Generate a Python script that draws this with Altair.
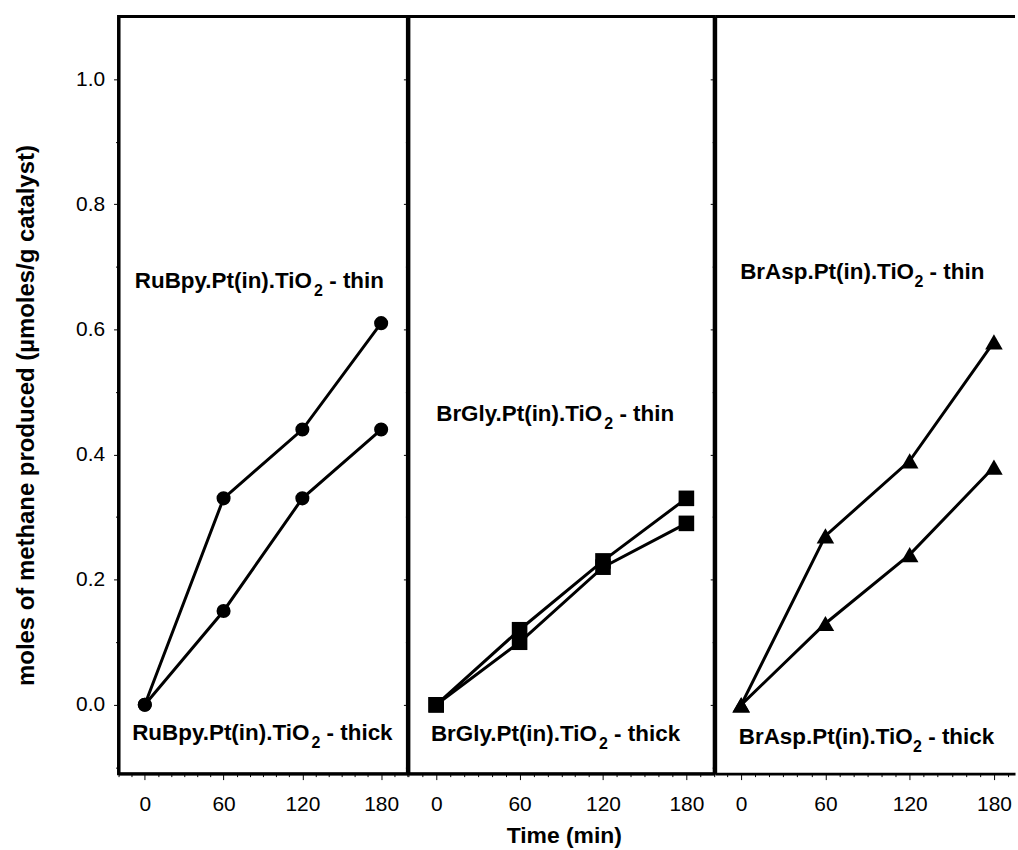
import altair as alt
import pandas as pd

# ---- measurements (µmol CH4 per g catalyst) ----
times = [0, 60, 120, 180]
rubpy_thin = [0.0, 0.33, 0.44, 0.61]
rubpy_thick = [0.0, 0.15, 0.33, 0.44]
brgly_thin = [0.0, 0.12, 0.23, 0.33]
brgly_thick = [0.0, 0.10, 0.22, 0.29]
brasp_thin = [0.0, 0.27, 0.39, 0.58]
brasp_thick = [0.0, 0.13, 0.24, 0.38]

catalysts = ["RuBpy", "BrGly", "BrAsp"]
marker_shapes = ["circle", "square", "triangle-up"]
marker_sizes = [200, 245, 310]

FONT = "Liberation Sans"
INK = "black"
LABEL_SIZE = 22.5
SUB_SIZE = 16
SUB_DROP = 8

Y_DOMAIN = [-0.11, 1.1]
PLOT_H = 760
y_ticks = [round(-0.1 + 0.05 * i, 2) for i in range(24)]
x_major = [0, 60, 120, 180]

# advance widths of Arial/Liberation Sans Bold, in em
ADV = {
    "R": .722, "u": .611, "B": .722, "p": .611, "y": .556, ".": .278, "P": .667,
    "t": .333, "(": .333, "i": .278, "n": .611, ")": .333, "T": .611, "O": .778,
    "2": .556, " ": .278, "-": .333, "h": .611, "c": .556, "k": .556, "r": .389,
    "G": .778, "l": .278, "A": .722, "s": .556,
}


def text_width(s, size):
    return sum(ADV[c] for c in s) * size


def formula_label(prefix, suffix, x, y):
    """Catalyst name with a subscripted 2 in TiO2, drawn as three text pieces."""
    pos = pd.DataFrame({"time": [x], "value": [y]})
    base = dict(font=FONT, fontWeight="bold", color=INK, align="left", baseline="alphabetic")
    w1 = text_width(prefix, LABEL_SIZE)
    w2 = text_width("2", SUB_SIZE)
    gap = text_width(" ", LABEL_SIZE)
    enc = dict(x="time:Q", y="value:Q")
    return [
        alt.Chart(pos).mark_text(text=prefix, fontSize=LABEL_SIZE, dx=0, **base).encode(**enc),
        alt.Chart(pos).mark_text(text="2", fontSize=SUB_SIZE, dx=w1, dy=SUB_DROP, **base).encode(**enc),
        alt.Chart(pos).mark_text(text=suffix, fontSize=LABEL_SIZE, dx=w1 + w2 + gap, **base).encode(**enc),
    ]


# label anchors (time, value at text baseline)
label_spots = [
    [(-7.6, 0.666), (-9.6, -0.057)],
    [(0.0, 0.454), (-3.8, -0.058)],
    [(-0.7, 0.681), (-1.7, -0.062)],
]

series = [(rubpy_thin, rubpy_thick), (brgly_thin, brgly_thick), (brasp_thin, brasp_thick)]
widths = [290, 307, 301]
x_domains = [[-20, 200], [-20, 200], [-18.5, 195]]


def panel(i):
    thin, thick = series[i]
    df = pd.DataFrame({
        "time": times * 2,
        "value": thin + thick,
        "series": ["thin"] * 4 + ["thick"] * 4,
    })
    lo, hi = x_domains[i]
    x_minor = [v for v in range(-20, 201, 10) if lo <= v <= hi and v not in x_major]
    x_scale = alt.Scale(domain=x_domains[i], nice=False, zero=False)

    major_kw = dict(
        orient="bottom",
        values=x_major,
        tickSize=6,
        labelPadding=14,
        labelOverlap=False,
        labelFlush=False,
        grid=False,
        title=None,
    )
    if i == 1:
        major_kw.update(
            title="Time (min)", titleFontSize=23, titleFontWeight="bold", titleFont=FONT,
            titleX=156, titleY=69, titleAlign="center", titleBaseline="alphabetic",
        )
    minor_kw = dict(
        orient="bottom", values=x_minor, tickSize=3, labels=False, domain=False,
        grid=False, title=None,
    )

    y_axis_kw = dict(
        values=y_ticks,
        labelExpr="abs(round(datum.value*20)) % 4 == 0 && datum.value >= 0 && datum.value <= 1.0 ? format(datum.value, '.1f') : ''",
        tickSize={"condition": {"test": "abs(round(datum.value*20)) % 4 == 0", "value": 5}, "value": 3},
        labelPadding=9,
        labelOverlap=False,
        grid=False,
        labels=(i == 0),
        title=None,
    )
    if i == 0:
        y_axis_kw.update(
            title="moles of methane produced (µmoles/g catalyst)",
            titleFontSize=24, titleFontWeight="bold", titleFont=FONT,
            titleAngle=270, titleX=-92, titleY=400, titleAlign="center", titleBaseline="middle",
        )

    x_enc = alt.X("time:Q", scale=x_scale, axis=alt.Axis(**major_kw))
    y_enc = alt.Y("value:Q", scale=alt.Scale(domain=Y_DOMAIN, nice=False, zero=False),
                  axis=alt.Axis(**y_axis_kw))

    lines = alt.Chart(df).mark_line(color=INK, strokeWidth=3).encode(
        x=x_enc, y=y_enc, detail="series:N"
    )

    name = catalysts[i] + ".Pt(in).TiO"
    (tx, ty), (kx, ky) = label_spots[i]
    texts = formula_label(name, "- thin", tx, ty) + formula_label(name, "- thick", kx, ky)

    inner_layers = [lines] + texts
    if i == 2:
        # open-ended last frame: only the top edge is drawn as a rule
        top = alt.Chart(pd.DataFrame({"time": [lo], "t2": [hi], "value": [Y_DOMAIN[1]]})).mark_rule(
            color=INK, strokeWidth=3
        ).encode(x="time:Q", x2="t2:Q", y="value:Q")
        inner_layers.append(top)
    inner = alt.layer(*inner_layers)

    # markers carry the minor time ticks on a second bottom axis
    points = alt.Chart(df).mark_point(
        shape=marker_shapes[i], size=marker_sizes[i], filled=True, color=INK, opacity=1
    ).encode(
        x=alt.X("time:Q", scale=x_scale, axis=alt.Axis(**minor_kw)),
        y=y_enc,
    )

    out = alt.layer(inner, points).resolve_axis(x="independent")
    if i == 2:
        return out.properties(
            width=widths[i], height=PLOT_H, view=alt.ViewBackground(stroke="transparent")
        )
    return out.properties(width=widths[i], height=PLOT_H)


chart = alt.hconcat(panel(0), panel(1), panel(2), spacing=1, bounds="flush").properties(
    padding={"left": 13, "top": 12, "right": 0, "bottom": 0},
    background="white",
).configure_view(
    stroke=INK, strokeWidth=3
).configure_axis(
    labelFont=FONT, labelFontSize=21, labelColor=INK, titleColor=INK,
    domainColor=INK, domainWidth=3, tickColor=INK, tickWidth=1,
)

chart.save("out.html", embed_options={"renderer": "svg", "actions": False})
